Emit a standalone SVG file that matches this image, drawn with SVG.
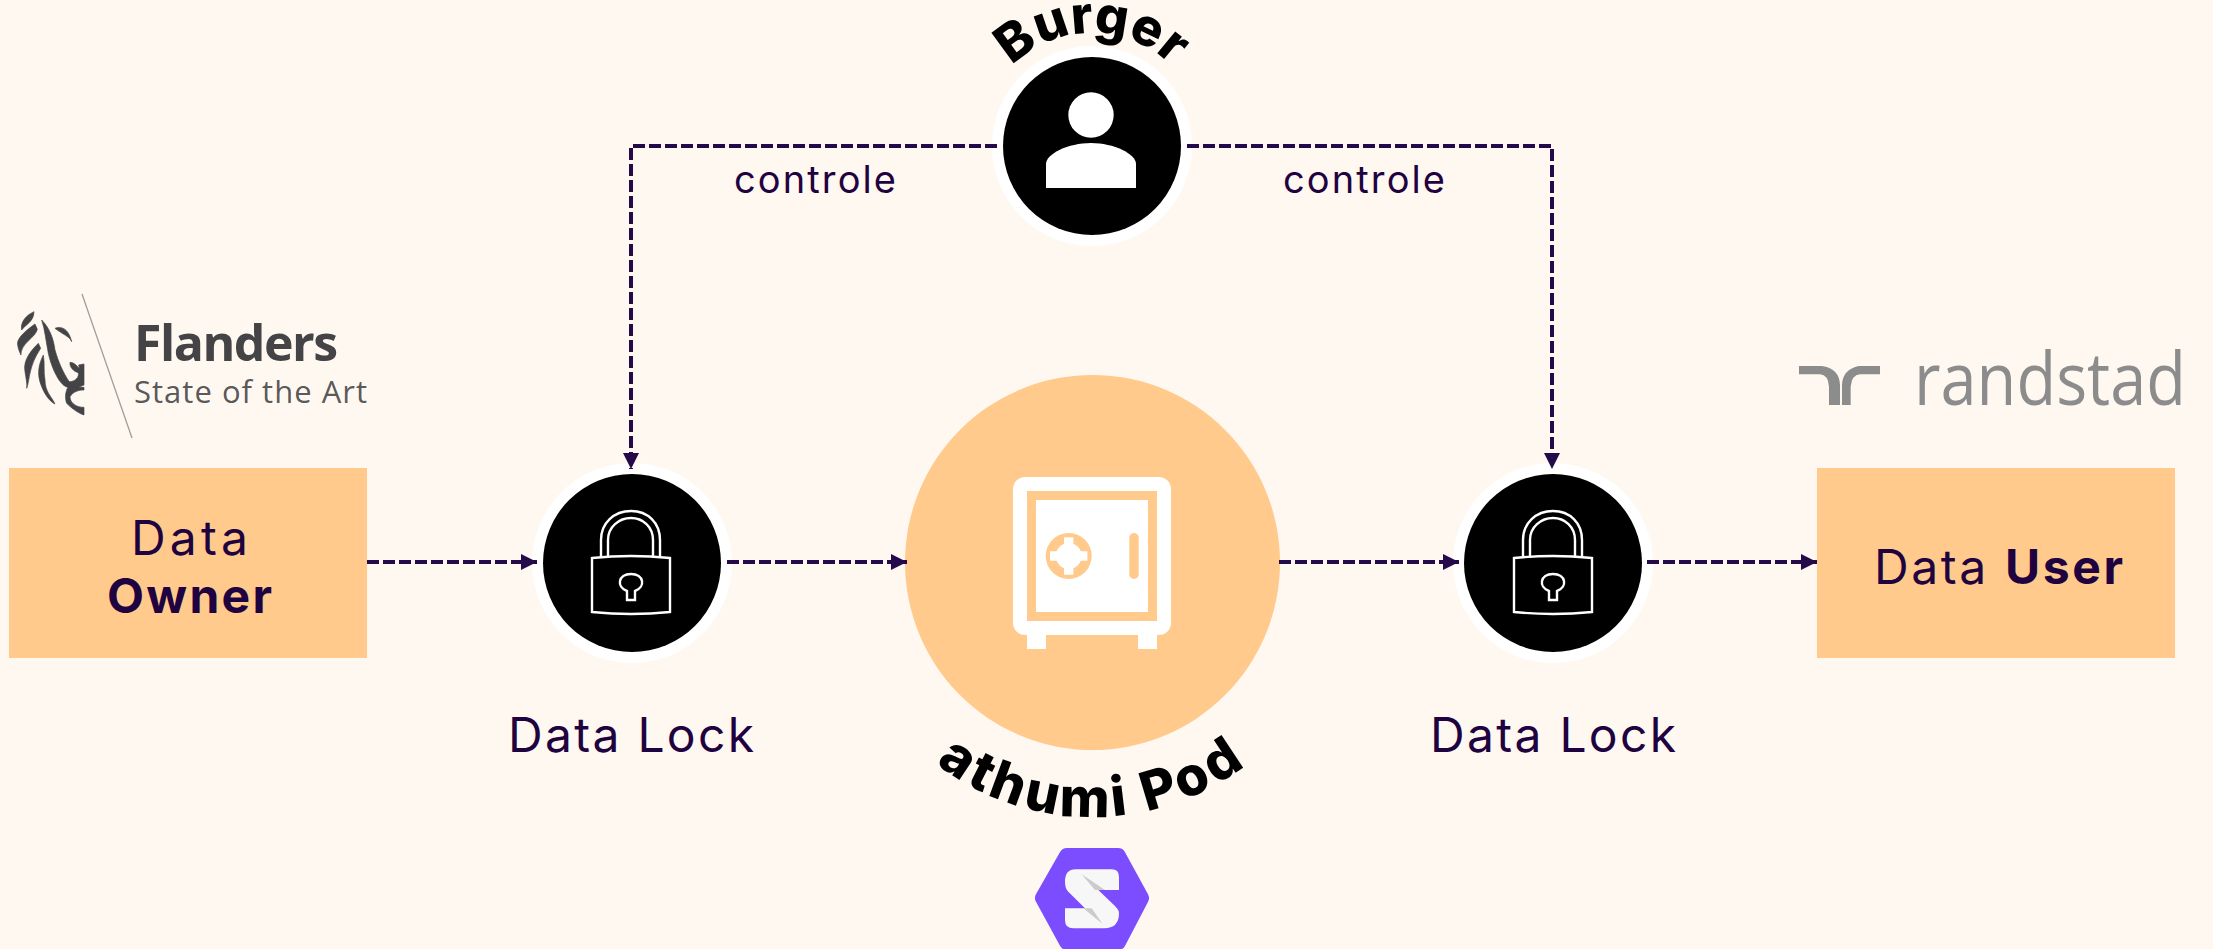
<svg xmlns="http://www.w3.org/2000/svg" width="2213" height="949" viewBox="0 0 2213 949">
<style>
.t{font-family:"Inter","Liberation Sans",sans-serif;fill:#1f0340}
.b{font-weight:700}
.curve{font-family:"Inter","Liberation Sans",sans-serif;font-weight:800;font-size:52px;fill:#000}
.box{fill:#ffca8b}
.ring{fill:#fff}
.line{fill:none;stroke:#240a4a;stroke-width:4;stroke-dasharray:12 4}
.lk{fill:none;stroke:#fff;stroke-width:2.4}
.fl{font-family:"Open Sans","Liberation Sans",sans-serif;fill:#444446}
</style>
<defs>
<marker id="arrow" markerUnits="userSpaceOnUse" markerWidth="17" markerHeight="17" refX="16" refY="8" orient="auto"><path d="M0 0L16 8L0 16Z" fill="#240a4a"/></marker>
<path id="arcBurger" d="M979 146A113 113 0 0 1 1205 146"/>
<path id="arcPod" d="M837 562A255 255 0 0 0 1347 562"/>
<g id="lockIcon">
<path class="lk" d="M-30 -5V-23C-30 -40 -17 -52 0 -52S29 -40 29 -23V-5"/>
<path class="lk" d="M-23 -5V-23C-23 -36 -12 -45 0 -45S22 -36 22 -23V-5"/>
<path class="lk" d="M-39 -5Q0 -9 39 -5V49Q0 53 -39 49Z"/>
<path class="lk" d="M-4 37V28C-15 24 -13 11 0 11S15 24 4 28V37Z"/>
</g>
</defs>
<rect width="2213" height="949" fill="#fff8f1"/>
<g id="data-owner">
<rect class="box" x="9" y="468" width="358" height="190"/>
<text class="t" x="131" y="555" font-size="48" textLength="117">Data</text>
<text class="t b" x="107" y="613" font-size="48" textLength="165">Owner</text>
</g>
<g id="data-user">
<rect class="box" x="1817" y="468" width="358" height="190"/>
<text class="t" x="1874" y="584" font-size="48" textLength="249">Data <tspan class="b">User</tspan></text>
</g>
<g id="lock-left">
<circle class="ring" cx="632" cy="563" r="100"/>
<circle cx="632" cy="563" r="89"/>
<use href="#lockIcon" x="631" y="563"/>
<text class="t" x="508" y="752" font-size="48" textLength="246">Data Lock</text>
</g>
<g id="lock-right">
<circle class="ring" cx="1553" cy="563" r="100"/>
<circle cx="1553" cy="563" r="89"/>
<use href="#lockIcon" x="1553" y="563"/>
<text class="t" x="1430" y="752" font-size="48" textLength="246">Data Lock</text>
</g>
<g id="burger">
<circle class="ring" cx="1092" cy="146" r="100"/>
<circle cx="1092" cy="146" r="89"/>
<circle class="ring" cx="1091" cy="115" r="22.7"/>
<path class="ring" d="M1046 188V164C1046 154 1068 143 1091 143S1136 154 1136 164V188Z"/>
<text class="curve" letter-spacing="0.500"><textPath href="#arcBurger" startOffset="50%" text-anchor="middle">Burger</textPath></text>
</g>
<g id="athumi-pod">
<circle class="box" cx="1092.500" cy="562.500" r="187.500"/>
<rect class="ring" x="1013" y="477" width="158" height="158" rx="12"/>
<rect class="box" x="1027" y="491" width="130" height="130"/>
<rect class="ring" x="1036" y="500" width="112" height="112"/>
<rect class="ring" x="1027" y="630" width="19" height="19"/>
<rect class="ring" x="1138" y="630" width="19" height="19"/>
<circle class="box" cx="1068.7" cy="556" r="23"/>
<circle class="ring" cx="1068.7" cy="556" r="13"/>
<rect class="ring" x="1050" y="551.3" width="37.4" height="9.4"/>
<rect class="ring" x="1064" y="537.3" width="9.4" height="37.4"/>
<rect class="box" x="1129.3" y="533" width="9.4" height="46" rx="4.7"/>
<text class="curve" letter-spacing="3.500" style="font-size:54px"><textPath href="#arcPod" startOffset="50%" text-anchor="middle">athumi Pod</textPath></text>
</g>
<g id="solid-logo">
<polygon points="1067,856 1118,856 1141,898 1118,942 1067,942 1043,898" fill="#7c4dff" stroke="#7c4dff" stroke-width="16" stroke-linejoin="round"/>
<g transform="translate(1030 840) scale(.3333)">
<path fill="#f7f7f7" d="M137 88H245Q267 88 267 110V150H205L255 198Q267 210 267 220Q267 265 222 265H130Q105 265 105 240V205H165L115 155Q105 145 105 125Q105 88 137 88Z"/>
<path fill="#cbcbcb" d="M155 103L225 150H195ZM160 205H185L218 252Z"/>
</g>
</g>
<g id="flanders-logo">
<line x1="82" y1="294" x2="132" y2="438" stroke="#a09f9c" stroke-width="1.3"/>
<g transform="translate(10 300) scale(.3333)" fill="#444446" stroke="#444446" stroke-width="2">
<path d="M72 35C50 45 30 65 35 90C45 75 72 65 72 35Z"/>
<path d="M75 72C50 90 18 115 23 135C25 150 30 158 33 165C32 130 75 115 82 88Z"/>
<path d="M85 130C65 150 38 180 45 215C48 235 52 255 50 265C60 240 55 200 92 145Z"/>
<path d="M100 165C85 195 80 225 95 260C105 285 120 305 135 312C125 290 105 275 105 240C100 215 105 190 100 165Z"/>
<path d="M95 60C115 80 130 110 135 150C145 185 160 220 178 245C195 245 208 232 205 218C190 215 178 200 180 187C195 187 200 200 208 205L206 195L222 192V255L205 262H175C150 260 125 205 115 160C108 125 105 90 95 60Z"/>
<path d="M175 260C165 275 165 295 170 310C185 325 205 340 222 345V322C200 322 180 310 180 290C190 275 205 270 222 270V262Z"/>
<path d="M135 85C150 78 175 82 185 125C178 108 160 105 135 85Z"/>
</g>
<text class="fl" x="134" y="361" font-size="50" font-weight="700" textLength="204">Flanders</text>
<text class="fl" x="134" y="403" font-size="31" textLength="233" fill-opacity=".9">State of the Art</text>
</g>
<g id="randstad-logo" fill="#8c8c8c">
<g transform="translate(1780 330) scale(.3333)">
<path d="M57 108H125Q178 115 180 165V225H147V170Q145 135 120 133H57Z"/>
<path d="M300 108H235Q187 120 186 165V225H212V170Q215 135 240 133H300Z"/>
</g>
<text x="1914" y="405" font-family="Open Sans, Liberation Sans, sans-serif" font-size="74" textLength="272" lengthAdjust="spacingAndGlyphs">randstad</text>
</g>
<g id="connectors">
<path class="line" marker-end="url(#arrow)" d="M367 562H537"/>
<path class="line" marker-end="url(#arrow)" d="M727 562H907"/>
<path class="line" marker-end="url(#arrow)" d="M1279 562H1459"/>
<path class="line" marker-end="url(#arrow)" d="M1647 562H1817"/>
<path class="line" marker-end="url(#arrow)" d="M997 146H631V469"/>
<path class="line" marker-end="url(#arrow)" d="M1187 146H1552V469"/>
<text class="t" x="734" y="193" font-size="38" textLength="162">controle</text>
<text class="t" x="1283" y="193" font-size="38" textLength="162">controle</text>
</g>
</svg>
